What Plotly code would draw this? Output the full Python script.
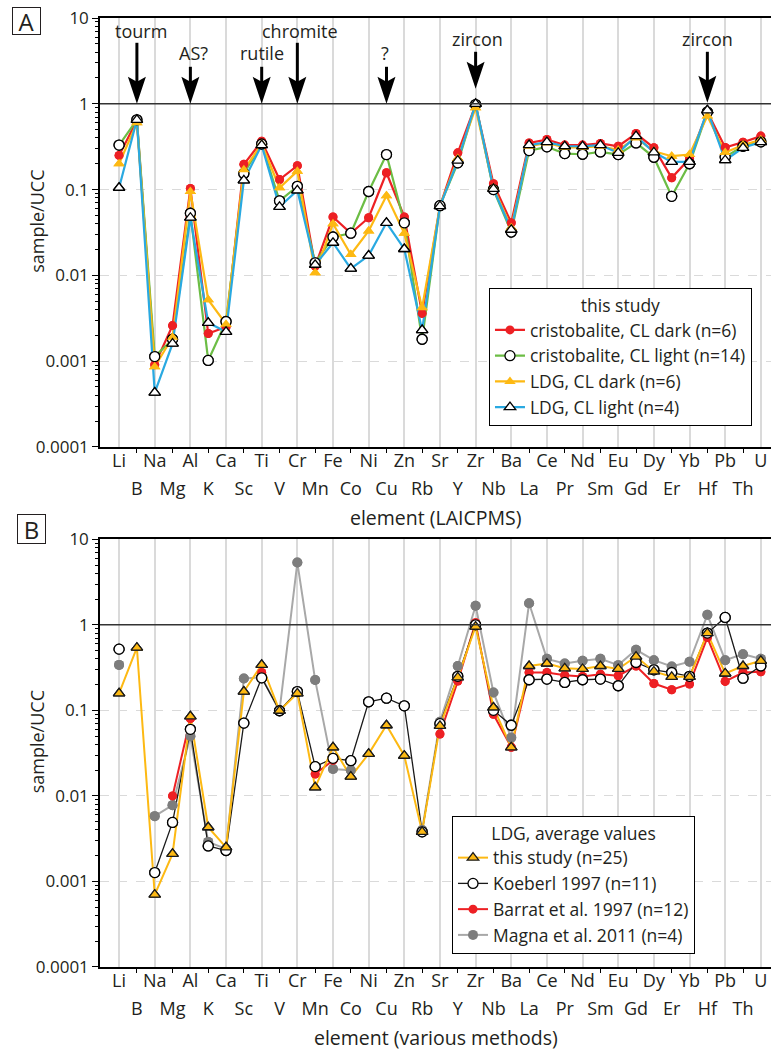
import plotly.graph_objects as go

elements = ["Li", "B", "Na", "Mg", "Al", "K", "Ca", "Sc", "Ti", "V", "Cr", "Mn", "Fe", "Co",
            "Ni", "Cu", "Zn", "Rb", "Sr", "Y", "Zr", "Nb", "Ba", "La", "Ce", "Pr", "Nd", "Sm",
            "Eu", "Gd", "Dy", "Er", "Yb", "Hf", "Pb", "Th", "U"]

# Panel A (LA-ICP-MS, this study)
a_cris_dark = [0.25, 0.64, 0.00091, 0.0026, 0.103, 0.0021, 0.0025, 0.197, 0.366, 0.131, 0.19, 0.0128,
               0.048, 0.031, 0.047, 0.157, 0.048, 0.0036, 0.064, 0.268, 0.97, 0.117, 0.041, 0.35,
               0.383, 0.33, 0.33, 0.345, 0.32, 0.45, 0.307, 0.137, 0.23, 0.8, 0.31, 0.357, 0.42]
a_cris_light = [0.33, 0.65, 0.00113, 0.0018, 0.053, 0.00102, 0.0029, 0.154, 0.34, 0.074, 0.109, 0.014,
                0.028, 0.031, 0.095, 0.256, 0.041, 0.0018, 0.065, 0.205, 0.98, 0.10, 0.032, 0.285,
                0.315, 0.263, 0.258, 0.275, 0.256, 0.35, 0.238, 0.0835, 0.20, 0.8, 0.24, 0.32, 0.36]
a_ldg_dark = [0.20, 0.60, 0.00086, 0.0019, 0.095, 0.0052, 0.0027, 0.17, 0.34, 0.105, 0.164, 0.0107,
              0.040, 0.0175, 0.033, 0.085, 0.031, 0.0042, 0.064, 0.23, 0.9, 0.105, 0.036, 0.32,
              0.35, 0.31, 0.31, 0.32, 0.29, 0.40, 0.28, 0.245, 0.256, 0.72, 0.27, 0.33, 0.38]
a_ldg_light = [0.105, 0.65, 0.00043, 0.0016, 0.047, 0.0028, 0.0022, 0.128, 0.33, 0.063, 0.098, 0.0133,
               0.024, 0.012, 0.017, 0.041, 0.0203, 0.0023, 0.064, 0.218, 1.0, 0.102, 0.034, 0.33,
               0.357, 0.32, 0.32, 0.33, 0.268, 0.42, 0.272, 0.21, 0.21, 0.84, 0.22, 0.307, 0.357]

# Panel B (LDG averages, various methods)
b_this_study = [0.158, 0.54, 0.0007, 0.0021, 0.085, 0.0043, 0.0025, 0.166, 0.34, 0.099, 0.158, 0.0126,
                0.037, 0.0168, 0.031, 0.067, 0.0295, 0.0038, 0.066, 0.243, 0.955, 0.108, 0.037, 0.33,
                0.353, 0.31, 0.305, 0.33, 0.305, 0.426, 0.285, 0.247, 0.247, 0.80, 0.27, 0.33, 0.38]
b_koeberl = [0.52, None, 0.00127, 0.0049, 0.06, 0.0026, 0.0023, 0.071, 0.24, 0.099, 0.166, 0.022,
             0.0275, 0.0258, 0.126, 0.139, 0.113, 0.0038, 0.07, 0.25, 1.0, 0.10, 0.067, 0.228,
             0.232, 0.212, 0.228, 0.232, 0.194, 0.363, 0.298, 0.277, 0.25, 0.80, 1.22, 0.238, 0.33]
b_barrat = [None, None, None, 0.0100, 0.08, None, None, None, 0.277, None, None, 0.018,
            0.026, None, None, None, None, None, 0.053, 0.22, 1.06, 0.09, 0.037, 0.277,
            0.277, 0.258, 0.249, 0.265, 0.254, 0.33, 0.206, 0.174, 0.203, 0.71, 0.218, 0.277, 0.282]
b_magna = [0.34, None, 0.0058, 0.0078, 0.05, 0.0029, 0.0024, 0.236, 0.243, 0.099, 5.35, 0.226,
           0.0206, 0.020, None, None, None, 0.004, 0.0736, 0.33, 1.67, 0.162, 0.048, 1.79,
           0.40, 0.353, 0.38, 0.40, 0.338, 0.51, 0.386, 0.326, 0.37, 1.31, 0.386, 0.454, 0.40]

y_tick_vals = [0.0001, 0.001, 0.01, 0.1, 1, 10]
y_tick_text = ["0.0001", "0.001", "0.01", "0.1", "1", "10"]

arrow_elements = ["B", "Al", "Ti", "Cr", "Cu", "Zr", "Hf"]
arrow_labels = ["tourm", "AS?", "rutile", "chromite", "?", "zircon", "zircon"]

idx = list(range(len(elements)))

RED = "#ED2024"
GREEN = "#6CBD45"
YELLOW = "#FDB913"
BLUE = "#29A9E1"
GRAY_L = "#A8A8A8"
GRAY_M = "#7D7D7D"
GRID = "#DADADA"
TXT = "#231F20"
FONT = "Open Sans"

fig = go.Figure()

series_a = [
    ("cristobalite, CL dark (n=6)", a_cris_dark, RED, 2.2, "circle", RED, RED, 0, 9),
    ("cristobalite, CL light (n=14)", a_cris_light, GREEN, 2.2, "circle", "white", "black", 1.3, 10),
    ("LDG, CL dark (n=6)", a_ldg_dark, YELLOW, 2.2, "triangle-up", YELLOW, YELLOW, 0, 10),
    ("LDG, CL light (n=4)", a_ldg_light, BLUE, 2.2, "triangle-up", "white", "black", 1.3, 10),
]
series_b = [
    ("Magna et al. 2011 (n=4)", b_magna, GRAY_L, 2.0, "circle", GRAY_M, GRAY_M, 0, 10),
    ("Barrat et al. 1997 (n=12)", b_barrat, RED, 2.0, "circle", RED, RED, 0, 9),
    ("Koeberl 1997 (n=11)", b_koeberl, "#1A1A1A", 1.3, "circle", "white", "black", 1.3, 10),
    ("this study (n=25)", b_this_study, YELLOW, 2.0, "triangle-up", YELLOW, "#1A1A1A", 1.3, 10),
]


def add_panel(series, xa, ya, legend):
    for name, vals, lc, lw, sym, mf, ml, mlw, ms in series:
        fig.add_trace(go.Scatter(
            x=idx, y=vals, xaxis=xa, yaxis=ya, mode="lines+markers", name=name, legend=legend,
            connectgaps=False, line=dict(color=lc, width=lw),
            marker=dict(symbol=sym, color=mf, size=ms, line=dict(color=ml, width=mlw))))
    for name, vals, lc, lw, sym, mf, ml, mlw, ms in series:
        fig.add_trace(go.Scatter(
            x=idx, y=vals, xaxis=xa, yaxis=ya, mode="markers", showlegend=False, hoverinfo="skip",
            marker=dict(symbol=sym, color=mf, size=ms, line=dict(color=ml, width=mlw))))


add_panel(series_a, "x", "y", "legend")
add_panel(series_b, "x2", "y2", "legend2")

X_RANGE = [-1.07, 36.57]
DOM_A = [0.548, 1.0]
DOM_B = [0.0, 0.4507]
minor_vals = [k * 10.0 ** e for e in range(-4, 1) for k in range(2, 10)]

tickfont = dict(family=FONT, size=18, color=TXT)
yfont = dict(family=FONT, size=17, color=TXT)


def xmain(anchor):
    return dict(anchor=anchor, domain=[0, 1], range=X_RANGE, tickmode="array",
                tickvals=idx[0::2], ticktext=elements[0::2], ticks="", showgrid=True,
                gridcolor=GRID, gridwidth=1.5, showline=True, linecolor="black", linewidth=1.5,
                mirror=True, zeroline=False, tickfont=tickfont, ticklabelstandoff=-3)


def xodd(anchor, over):
    return dict(anchor=anchor, overlaying=over, side="bottom", range=X_RANGE, tickmode="array",
                tickvals=idx[1::2], ticktext=elements[1::2], ticks="outside", ticklen=5,
                tickcolor="black", tickwidth=1.2, showgrid=False, showline=False, zeroline=False,
                tickfont=tickfont, ticklabelstandoff=20)


def ylog(anchor, dom):
    return dict(anchor=anchor, domain=dom, type="log", range=[-4, 1], tickmode="array",
                tickvals=y_tick_vals, ticktext=y_tick_text, ticks="outside", ticklen=6,
                tickcolor="black", tickwidth=1.2, showline=True, linecolor="black", linewidth=1.5,
                showgrid=True, gridcolor=GRID, griddash="dash", gridwidth=1.2, zeroline=False,
                tickfont=yfont,
                minor=dict(tickmode="array", tickvals=minor_vals, ticks="outside", ticklen=3,
                           tickcolor="black", tickwidth=1, showgrid=False))


shapes = []
for yr in ["y", "y2"]:
    shapes.append(dict(type="line", xref="x domain" if yr == "y" else "x2 domain", x0=0, x1=1,
                       yref=yr, y0=1, y1=1, line=dict(color="#333333", width=1.5), layer="above"))

# arrows (pixel geometry anchored to element / value 1)
arrow_geom = {"B": (0, 61), "Al": (0, 37), "Ti": (0, 37), "Cr": (0, 61), "Cu": (0, 37),
              "Zr": (15, 52), "Hf": (1, 52)}
text_geom = {"B": (4, 73), "Al": (3, 51), "Ti": (0, 51), "Cr": (3, 73), "Cu": (-1, 51),
             "Zr": (2, 65), "Hf": (0, 65)}
annotations = []
for el, lab in zip(arrow_elements, arrow_labels):
    xi = elements.index(el)
    tip, tail = arrow_geom[el]
    shapes.append(dict(type="path", xref="x", yref="y", xsizemode="pixel", ysizemode="pixel",
                       xanchor=xi, yanchor=1,
                       path=f"M0,{tip} L-9,{tip + 27} L0,{tip + 22} L9,{tip + 27} Z",
                       fillcolor="black", line=dict(width=0), layer="above"))
    shapes.append(dict(type="line", xref="x", yref="y", xsizemode="pixel", ysizemode="pixel",
                       xanchor=xi, yanchor=1, x0=0, x1=0, y0=tip + 20, y1=tail,
                       line=dict(color="black", width=3), layer="above"))
    dx, dy = text_geom[el]
    annotations.append(dict(x=xi, y=0, xref="x", yref="y", text=lab, showarrow=False,
                            xshift=dx, yshift=dy, xanchor="center", yanchor="middle",
                            font=dict(family=FONT, size=18, color=TXT)))

ytitle_font = dict(family=FONT, size=18, color=TXT)
xtitle_font = dict(family=FONT, size=19.5, color=TXT)
annotations += [
    dict(x=-0.1095, y=0.9965, xref="paper", yref="paper", text="A", showarrow=False,
         font=dict(family=FONT, size=24, color=TXT), bordercolor=TXT, borderwidth=1,
         width=27, height=26, borderpad=0, xanchor="center", yanchor="middle"),
    dict(x=-0.102, y=0.4612, xref="paper", yref="paper", text="B", showarrow=False,
         font=dict(family=FONT, size=24, color=TXT), bordercolor=TXT, borderwidth=1,
         width=27, height=28, borderpad=0, xanchor="center", yanchor="middle"),
    dict(x=-0.0939, y=0.7863, xref="paper", yref="paper", text="sample/UCC", textangle=-90,
         showarrow=False, font=ytitle_font, xanchor="center", yanchor="middle"),
    dict(x=-0.0939, y=0.2378, xref="paper", yref="paper", text="sample/UCC", textangle=-90,
         showarrow=False, font=ytitle_font, xanchor="center", yanchor="middle"),
    dict(x=0.5, y=0.4739, xref="paper", yref="paper", text="element (LAICPMS)",
         showarrow=False, font=xtitle_font, xanchor="center", yanchor="middle"),
    dict(x=0.5, y=-0.074, xref="paper", yref="paper", text="element (various methods)",
         showarrow=False, font=xtitle_font, xanchor="center", yanchor="middle"),
]

leg_font = dict(family=FONT, size=17.5, color=TXT)
fig.update_layout(
    width=771, height=1050, paper_bgcolor="white", plot_bgcolor="white",
    margin=dict(l=100, r=0, t=18, b=83),
    font=dict(family=FONT, color=TXT),
    xaxis=xmain("y"), xaxis3=xodd("y", "x"),
    xaxis2=xmain("y2"), xaxis4=xodd("y2", "x2"),
    yaxis=ylog("x", DOM_A), yaxis2=ylog("x2", DOM_B),
    shapes=shapes, annotations=annotations,
    legend=dict(x=0.5797, y=0.7152, xanchor="left", yanchor="top", bgcolor="white",
                bordercolor="black", borderwidth=1, font=leg_font, traceorder="normal",
                tracegroupgap=0,
                title=dict(text="this study", side="top center", font=leg_font)),
    legend2=dict(x=0.5246, y=0.1591, xanchor="left", yanchor="top", bgcolor="white",
                 bordercolor="black", borderwidth=1, font=leg_font, traceorder="reversed",
                 tracegroupgap=0,
                 title=dict(text="LDG, average values", side="top center", font=leg_font)),
    showlegend=True,
)
# invisible anchors so overlay axes render
fig.add_trace(go.Scatter(x=[None], y=[None], xaxis="x3", yaxis="y", showlegend=False, hoverinfo="skip"))
fig.add_trace(go.Scatter(x=[None], y=[None], xaxis="x4", yaxis="y2", showlegend=False, hoverinfo="skip"))

fig.write_html("out.html")
